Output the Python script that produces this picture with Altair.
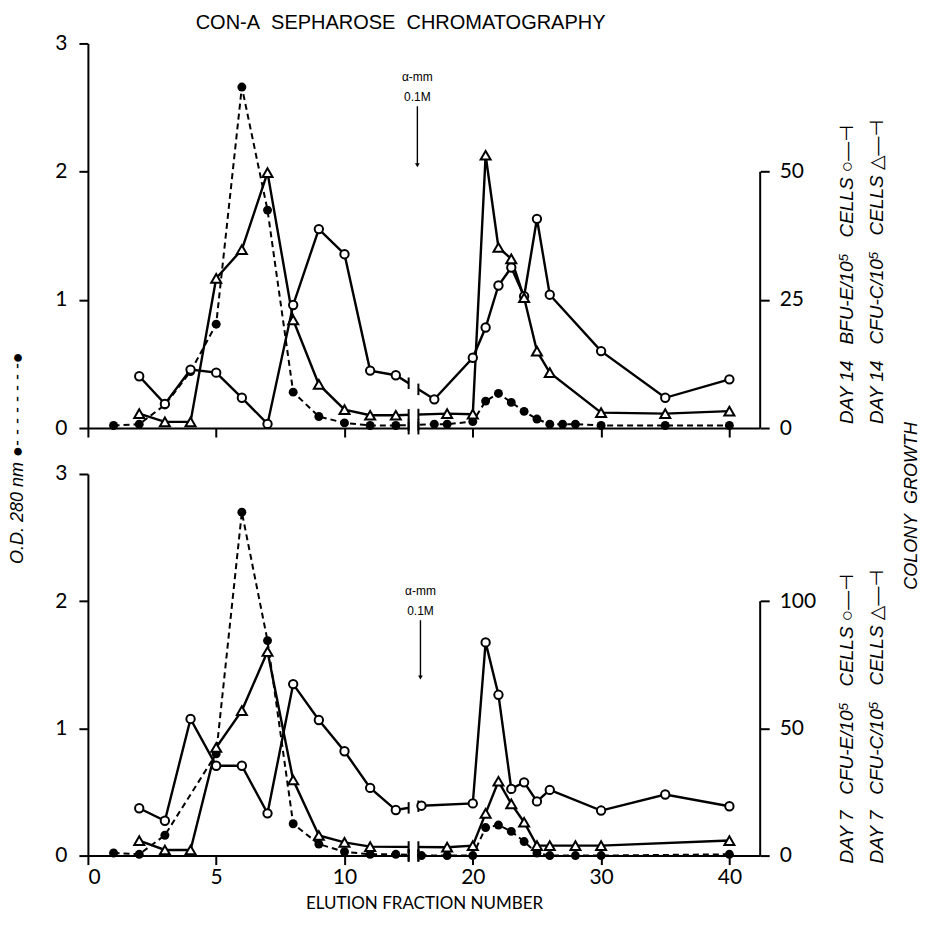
import altair as alt
import numpy as np
import pandas as pd

# ---------------------------------------------------------------------------
# Readings (fraction number -> value)
# Upper panel: day-14 cultures
top_od_frac = [1, 2, 3, 4, 5, 6, 7, 8, 9, 10, 11, 12, 17, 18, 20, 21, 22, 23, 24, 25, 26, 27, 28, 30, 35, 40]
top_od = [0.02, 0.03, 0.18, 0.44, 0.81, 2.66, 1.70, 0.28, 0.09, 0.04, 0.02, 0.02, 0.03, 0.03, 0.05,
          0.21, 0.27, 0.20, 0.13, 0.07, 0.03, 0.03, 0.03, 0.02, 0.02, 0.02]
top_bfue_frac = [2, 3, 4, 5, 6, 7, 8, 9, 10, 11, 12, 17, 20, 21, 22, 23, 24, 25, 26, 30, 35, 40]
top_bfue = [10.1, 4.7, 11.4, 10.8, 5.9, 0.8, 24.0, 38.8, 33.9, 11.2, 10.3, 5.6, 13.7, 19.6, 27.8,
            31.3, 25.7, 40.8, 26.0, 15.0, 5.9, 9.5]
top_cfuc_frac = [2, 3, 4, 5, 6, 7, 8, 9, 10, 11, 12, 18, 20, 21, 22, 23, 24, 25, 26, 30, 35, 40]
top_cfuc = [2.8, 1.2, 1.2, 29.2, 34.8, 49.8, 21.1, 8.5, 3.6, 2.5, 2.5, 2.8, 2.7, 53.2, 35.2, 33.0,
            25.4, 15.0, 10.8, 3.0, 2.8, 3.3]

# Lower panel: day-7 cultures
bot_od_frac = [1, 2, 3, 5, 6, 7, 8, 9, 10, 11, 12, 16, 18, 20, 21, 22, 23, 24, 25, 26, 28, 30, 40]
bot_od = [0.02, 0.01, 0.16, 0.80, 2.70, 1.69, 0.25, 0.09, 0.03, 0.01, 0.01, 0.0, 0.0, 0.0, 0.22,
          0.24, 0.19, 0.11, 0.02, 0.0, 0.0, 0.0, 0.01]
bot_cfue_frac = [2, 3, 4, 5, 6, 7, 8, 9, 10, 11, 12, 16, 20, 21, 22, 23, 24, 25, 26, 30, 35, 40]
bot_cfue = [18.6, 13.7, 53.7, 35.3, 35.3, 16.6, 67.4, 53.3, 41.0, 26.6, 17.9, 19.6, 20.5, 83.8,
            63.2, 26.2, 28.8, 21.3, 25.8, 17.7, 24.0, 19.4]
bot_cfuc_frac = [2, 3, 4, 5, 6, 7, 8, 9, 10, 11, 18, 20, 21, 22, 23, 24, 25, 26, 28, 30, 40]
bot_cfuc = [5.9, 2.2, 2.2, 42.5, 57.0, 80.2, 29.7, 7.9, 5.2, 3.5, 3.3, 3.9, 16.6, 29.2, 20.3,
            13.1, 3.9, 3.9, 3.9, 3.9, 5.9]

# Axis ticks (x ticks are in plotted units; fractions past the break run at half scale)
x_tick_pos = [0, 5, 10, 15, 20, 25]
x_tick_labels = ["0", "5", "10", "20", "30", "40"]
od_ticks = [0, 1, 2, 3]
top_colony_ticks = [0, 25, 50]
bot_colony_ticks = [0, 50, 100]

# ---------------------------------------------------------------------------
# Layout / style
W = 673
H_TOP, H_BOT = 385, 382
X_MAX = 26.2
BREAK_LO, BREAK_HI = 12.5, 12.88
CAP = 0.045
LABEL_FONT = "Lato, Open Sans, sans-serif"
TEXT_FONT = "Liberation Sans, Arimo, DejaVu Sans, sans-serif"
SIDE_FONT = "Liberation Sans, Arimo, DejaVu Sans, sans-serif"
SP = "\u00a0\u00a0\u00a0"   # wide word gaps in the side captions


def plotted(f):
    return f if f <= 14 else 5 + f / 2.0


POS_EXPR = "datum.fraction <= 14 ? datum.fraction : 5 + datum.fraction / 2"

label_expr = "datum.label"
for p, lab in zip(reversed(x_tick_pos), reversed(x_tick_labels)):
    label_expr = f"datum.value == {p} ? '{lab}' : ({label_expr})"


def edge_values(frac, vals, k):
    p = np.array([plotted(f) for f in frac], dtype=float)
    y = np.array(vals, dtype=float) / k
    i = np.where(p < BREAK_LO)[0][-1]
    j = np.where(p > BREAK_HI)[0][0]
    return [float(np.interp(b, [p[i], p[j]], [y[i], y[j]])) for b in (BREAK_LO, BREAK_HI)]


def make_panel(od_f, od_v, e_f, e_v, c_f, c_v, k, height, colony_ticks, bottom,
               side_texts, arrow_x, arrow_y, extra_texts):
    df = pd.concat([
        pd.DataFrame({"series": "od", "fraction": od_f, "value": od_v}),
        pd.DataFrame({"series": "e", "fraction": e_f, "value": e_v}),
        pd.DataFrame({"series": "c", "fraction": c_f, "value": c_v}),
    ], ignore_index=True)

    xs = alt.Scale(domain=[0, X_MAX], nice=False, zero=False)
    ys = alt.Scale(domain=[0, 3], nice=False)
    xaxis = alt.Axis(values=x_tick_pos, labelExpr=label_expr, labels=bottom,
                     title="ELUTION FRACTION NUMBER" if bottom else None,
                     titleFont=LABEL_FONT, titleFontSize=17, titleFontWeight="normal",
                     titlePadding=8, labelPadding=2, grid=False)
    yaxis = alt.Axis(orient="left", values=od_ticks, title=None, grid=False, labelPadding=12)
    X = alt.X("pos:Q", scale=xs, axis=xaxis)
    Y = alt.Y("y:Q", scale=ys, axis=yaxis)

    base = alt.Chart(df).transform_calculate(
        pos=POS_EXPR,
        y=f"datum.series == 'od' ? datum.value : datum.value / {k}",
    )

    od_line = base.transform_filter("datum.series == 'od'").mark_line(
        color="black", strokeWidth=2, strokeDash=[6, 4]).encode(x=X, y=Y)
    e_line = base.transform_filter("datum.series == 'e'").mark_line(
        color="black", strokeWidth=2.4).encode(x=X, y=Y)
    c_line = base.transform_filter("datum.series == 'c'").mark_line(
        color="black", strokeWidth=2.4).encode(x=X, y=Y)

    # white gap over the axis break, with end caps on every interrupted line
    gap = alt.Chart(pd.DataFrame({"x0": [BREAK_LO], "x1": [BREAK_HI], "y0": [-0.04], "y1": [3.0]})
                    ).mark_rect(color="white").encode(
        x=alt.X("x0:Q", scale=xs, axis=xaxis), x2="x1",
        y=alt.Y("y0:Q", scale=ys, axis=yaxis), y2="y1")
    caps = []
    for f, v, kk in ((od_f, od_v, 1), (e_f, e_v, k), (c_f, c_v, k)):
        for b, yv in zip((BREAK_LO, BREAK_HI), edge_values(f, v, kk)):
            caps.append({"x": b, "y0": yv - CAP, "y1": yv + CAP})
    for b in (BREAK_LO, BREAK_HI):
        caps.append({"x": b, "y0": -0.05, "y1": 0.05})
    cap_layer = alt.Chart(pd.DataFrame(caps)).mark_rule(color="black", strokeWidth=2).encode(
        x=alt.X("x:Q", scale=xs, axis=xaxis), y=alt.Y("y0:Q", scale=ys, axis=yaxis), y2="y1")

    od_pts = base.transform_filter("datum.series == 'od'").mark_point(
        shape="circle", filled=True, color="black", size=80, opacity=1).encode(x=X, y=Y)
    e_pts = base.transform_filter("datum.series == 'e'").mark_point(
        shape="circle", filled=True, fill="white", stroke="black", strokeWidth=2,
        size=70, opacity=1).encode(x=X, y=Y)
    c_pts = base.transform_filter("datum.series == 'c'").mark_point(
        shape="triangle-up", filled=True, fill="white", stroke="black", strokeWidth=2,
        size=100, opacity=1).encode(x=X, y=Y)

    # elution marker: alpha-methyl mannoside step
    arr = pd.DataFrame({"x": [arrow_x], "y0": [arrow_y[2]], "y1": [arrow_y[3]]})
    arrow_shaft = alt.Chart(arr).mark_rule(color="black", strokeWidth=1.4).encode(
        x=alt.X("x:Q", scale=xs, axis=xaxis), y=alt.Y("y0:Q", scale=ys, axis=yaxis), y2="y1")
    arrow_head = alt.Chart(arr).mark_point(shape="triangle-down", filled=True, color="black",
                                           size=22, opacity=1).encode(
        x=alt.X("x:Q", scale=xs, axis=xaxis), y=alt.Y("y1:Q", scale=ys, axis=yaxis))
    arrow_txt = alt.Chart(pd.DataFrame({"x": [arrow_x, arrow_x], "y": arrow_y[:2],
                                        "t": ["\u03b1-mm", "0.1M"]})).mark_text(
        font=TEXT_FONT, fontSize=12, color="black").encode(
        x=alt.X("x:Q", scale=xs, axis=xaxis), y=alt.Y("y:Q", scale=ys, axis=yaxis), text="t")

    layers = [od_line, e_line, c_line, gap, cap_layer, od_pts, e_pts, c_pts,
              arrow_shaft, arrow_head, arrow_txt]

    for t, px, py in side_texts:
        layers.append(alt.Chart(pd.DataFrame({"t": [t]})).mark_text(
            font=SIDE_FONT, fontSize=19, fontStyle="italic", angle=270, align="left",
            baseline="middle", color="black").encode(text="t", x=alt.value(px), y=alt.value(py)))
    for t, px, py, kw in extra_texts:
        layers.append(alt.Chart(pd.DataFrame({"t": [t]})).mark_text(color="black", **kw).encode(
            text="t", x=alt.value(px), y=alt.value(py)))

    data_group = alt.layer(*layers)

    right = alt.Chart(pd.DataFrame({"lo": [0], "hi": [colony_ticks[-1]]})).mark_rule(
        color="black", strokeWidth=2).encode(
        x=alt.value(W),
        y=alt.Y("lo:Q", scale=alt.Scale(domain=[0, colony_ticks[-1] * 1.5], nice=False),
                axis=alt.Axis(orient="right", values=colony_ticks, domain=False, title=None,
                              grid=False, labelPadding=10)),
        y2="hi")

    return alt.layer(data_group, right).resolve_scale(y="independent").properties(
        width=W, height=height)


top = make_panel(
    top_od_frac, top_od, top_bfue_frac, top_bfue, top_cfuc_frac, top_cfuc, 25, H_TOP,
    top_colony_ticks, False,
    [(f"DAY 14{SP}BFU-E/10\u2075{SP}CELLS\u00a0\u25cb\u2014\u22a3", 760, 381),
     (f"DAY 14{SP}CFU-C/10\u2075{SP}CELLS\u00a0\u25b3\u2014\u22a3", 790, 381)],
    12.84, [2.74, 2.58, 2.51, 2.05],
    [("CON-A\u00a0\u00a0SEPHAROSE\u00a0\u00a0CHROMATOGRAPHY", 313, -20,
      dict(font=TEXT_FONT, fontSize=20, align="center", baseline="middle")),
     ("O.D.  280 nm  \u25cf- - - - - - - -\u25cf", -70, 521,
      dict(font=TEXT_FONT, fontSize=18, fontStyle="italic", angle=270, align="left",
           baseline="middle")),
     ("COLONY\u00a0\u00a0GROWTH", 825, 463,
      dict(font=SIDE_FONT, fontSize=18, fontStyle="italic", angle=270, align="center",
           baseline="middle")),
     (" ", -87, -42, dict(fontSize=1))],
)

bottom = make_panel(
    bot_od_frac, bot_od, bot_cfue_frac, bot_cfue, bot_cfuc_frac, bot_cfuc, 50, H_BOT,
    bot_colony_ticks, True,
    [(f"DAY 7{SP}CFU-E/10\u2075{SP}CELLS\u00a0\u25cb\u2014\u22a3", 760, 390),
     (f"DAY 7{SP}CFU-C/10\u2075{SP}CELLS\u00a0\u25b3\u2014\u22a3", 790, 390)],
    12.96, [2.08, 1.92, 1.85, 1.40],
    [],
)

# invisible anchor so the plot origin sits at a fixed offset from the page corner
anchor = alt.Chart(pd.DataFrame({"a": [0]})).mark_rule(color="white", strokeWidth=1).encode(
    x=alt.value(-87), x2=alt.value(-86), y=alt.value(-42), y2=alt.value(-41))

chart = alt.vconcat(alt.layer(top, anchor), bottom, spacing=46, bounds="flush").properties(
    padding={"left": 0, "top": 0, "right": 5, "bottom": 5}
).configure_view(stroke=None).configure_axis(
    domainColor="black", domainWidth=2, tickColor="black", tickWidth=2, tickSize=9,
    labelColor="black", labelFont=LABEL_FONT, labelFontSize=21, titleColor="black",
)

chart.save("out.html", embed_options={"renderer": "svg", "actions": False})
